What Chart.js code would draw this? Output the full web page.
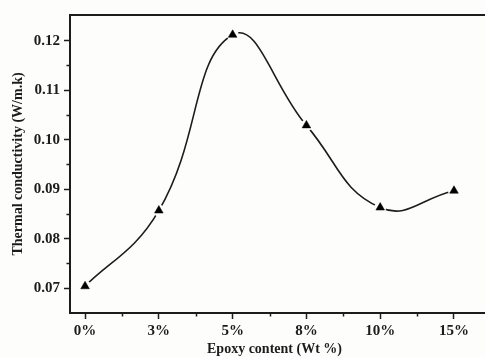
<!DOCTYPE html>
<html>
<head>
<meta charset="utf-8">
<script src="https://cdn.jsdelivr.net/npm/chart.js@4"></script>
<style>
html,body{margin:0;padding:0;background:#fdfdfb;}
#wrap{width:485px;height:357px;position:relative;}
</style>
</head>
<body>
<div id="wrap"><canvas id="c" width="485" height="357"></canvas></div>
<script>
const categories = ['0%', '3%', '5%', '8%', '10%', '15%'];
const conductivity = [0.0704, 0.0857, 0.1212, 0.1029, 0.0863, 0.0897];
const yTicks = [0.07, 0.08, 0.09, 0.10, 0.11, 0.12];
const yMinorTicks = [0.075, 0.085, 0.095, 0.105, 0.115];
const xMinorTicks = [0.5, 1.5, 2.5, 3.5, 4.5];
const xTitle = 'Epoxy content (Wt %)';
const yTitle = 'Thermal conductivity (W/m.k)';

const pts = conductivity.map((v, i) => ({x: i, y: v}));
const ink = '#1c1c1c';
const serif = "'Liberation Serif', 'DejaVu Serif', serif";

const frame = {
  id: 'frame',
  afterDraw(chart) {
    const {ctx, chartArea: a, scales} = chart;
    ctx.save();
    ctx.strokeStyle = ink;
    ctx.lineWidth = 2;
    ctx.beginPath();
    ctx.moveTo(a.left - 1, a.top);
    ctx.lineTo(chart.width, a.top);
    ctx.moveTo(a.right, a.bottom);
    ctx.lineTo(chart.width, a.bottom);
    ctx.stroke();
    ctx.lineWidth = 1.5;
    ctx.beginPath();
    yMinorTicks.forEach(v => {
      const y = Math.round(scales.y.getPixelForValue(v)) + 0.5;
      ctx.moveTo(a.left, y); ctx.lineTo(a.left - 3.5, y);
    });
    xMinorTicks.forEach(v => {
      const x = Math.round(scales.x.getPixelForValue(v)) + 0.5;
      ctx.moveTo(x, a.bottom); ctx.lineTo(x, a.bottom + 3.5);
    });
    ctx.stroke();
    ctx.restore();
  }
};

new Chart(document.getElementById('c'), {
  type: 'scatter',
  data: {
    datasets: [
      {
        data: pts, showLine: true, tension: 0.45, borderColor: ink, borderWidth: 1.6,
        pointRadius: 0, order: 3,
        segment: {borderColor: c => c.p0DataIndex === 0 ? 'rgba(0,0,0,0)' : ink}
      },
      {
        data: pts, showLine: true, cubicInterpolationMode: 'monotone', borderColor: ink, borderWidth: 1.6,
        pointRadius: 0, order: 4,
        segment: {borderColor: c => c.p0DataIndex === 0 ? ink : 'rgba(0,0,0,0)'}
      },
      {
        data: pts, showLine: false, pointStyle: 'circle', pointRadius: 6,
        pointBackgroundColor: '#fdfdfb', pointBorderWidth: 0, order: 2
      },
      {
        data: pts, showLine: false, pointStyle: 'triangle', pointRadius: 5,
        pointBackgroundColor: '#000', pointBorderColor: '#000', pointBorderWidth: 0.5, order: 1
      }
    ]
  },
  options: {
    responsive: false,
    animation: false,
    layout: {padding: {left: 0, right: 0, top: 15, bottom: 0}},
    plugins: {legend: {display: false}, tooltip: {enabled: false}},
    scales: {
      x: {
        type: 'linear', min: -0.204, max: 5.339,
        afterBuildTicks: s => { s.ticks = categories.map((c, i) => ({value: i})); },
        afterFit: s => { s.height = 44; },
        ticks: {
          callback: v => categories[v], color: ink, padding: 3,
          font: {family: serif, size: 15, weight: 'bold'}, maxRotation: 0
        },
        grid: {drawOnChartArea: false, tickLength: 6, tickColor: ink, tickWidth: 1.5},
        border: {color: ink, width: 2},
        title: {display: true, text: xTitle, color: ink, padding: {top: 0, bottom: -1},
          font: {family: serif, size: 14, weight: 'bold'}}
      },
      y: {
        type: 'linear', min: 0.065, max: 0.1252,
        afterBuildTicks: s => { s.ticks = yTicks.map(v => ({value: v})); },
        afterFit: s => { s.width = 70; },
        ticks: {
          callback: v => v.toFixed(2), color: ink, padding: 4,
          font: {family: serif, size: 15, weight: 'bold'}
        },
        grid: {drawOnChartArea: false, tickLength: 6, tickColor: ink, tickWidth: 1.5},
        border: {color: ink, width: 2},
        title: {display: true, text: yTitle, color: ink, padding: {top: 10, bottom: 0},
          font: {family: serif, size: 14, weight: 'bold'}}
      }
    }
  },
  plugins: [frame]
});
</script>
</body>
</html>
